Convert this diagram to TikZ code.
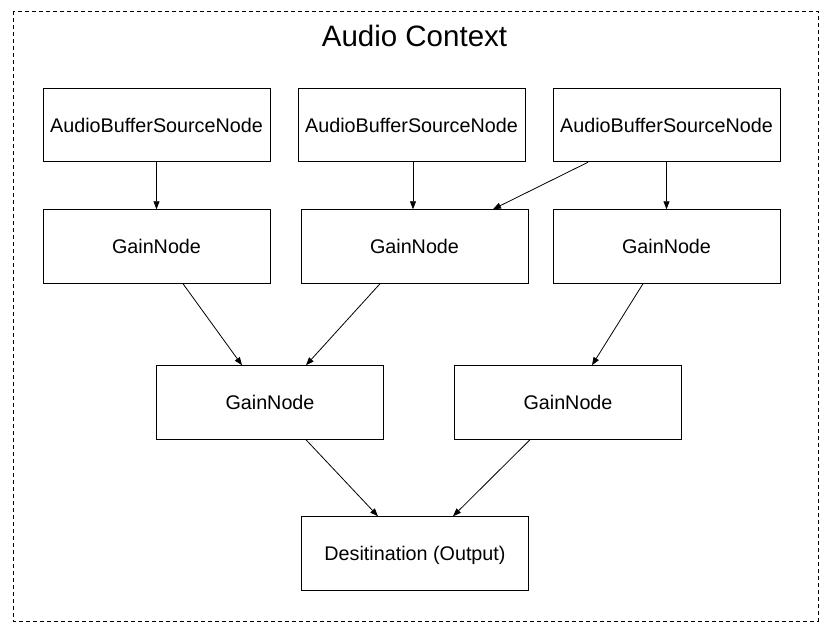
\documentclass[tikz,border=0pt]{standalone}
\usepackage{fontspec}
\setmainfont{Liberation Sans}
\usepackage{tikz}
\usetikzlibrary{arrows.meta}

\tikzset{
  box/.style={draw,line width=1pt,minimum width=227pt,minimum height=73.5pt,inner sep=0pt,
    text height=14.1pt,text depth=0pt,font=\fontsize{19.75}{22}\selectfont},
  link/.style={line width=0.8pt,-{Stealth[length=8pt,width=6pt,inset=0pt]}}
}

\begin{document}
\begin{tikzpicture}[x=1pt,y=-1pt]
\useasboundingbox (0,0) rectangle (828,632);
\draw[line width=0.9pt,dash pattern=on 4pt off 3pt] (13,11) rectangle (818,621);
\node[anchor=base,font=\fontsize{29.5}{34}\selectfont] (title) at (414.5,46) {Audio Context};

% sources
\node[box] (src1) at (156.5,125) {AudioBufferSourceNode};
\node[box] (src2) at (411.5,125) {AudioBufferSourceNode};
\node[box] (src3) at (666.5,125) {AudioBufferSourceNode};

% gains
\node[box] (gain1) at (156.5,246.5) {GainNode};
\node[box] (gain2) at (414.5,246.5) {GainNode};
\node[box] (gain3) at (666.5,246.5) {GainNode};

\node[box] (mix1) at (270,402.5) {GainNode};
\node[box] (mix2) at (568,402.5) {GainNode};

\node[box] (out) at (415,553.5) {Desitination (Output)};

\path[link]
  (src1) edge (gain1)
  ([xshift=1.5pt]src2.south) edge ([xshift=-1.5pt]gain2.north)
  ([xshift=-78.5pt]src3.south) edge ([xshift=78.5pt]gain2.north)
  (src3) edge (gain3)
  ([xshift=26.5pt]gain1.south) edge ([xshift=-28pt]mix1.north)
  ([xshift=-34.5pt]gain2.south) edge ([xshift=36pt]mix1.north)
  ([xshift=-23.5pt]gain3.south) edge ([xshift=24pt]mix2.north)
  ([xshift=36pt]mix1.south) edge ([xshift=-37pt]out.north)
  ([xshift=-38pt]mix2.south) edge ([xshift=38pt]out.north);
\end{tikzpicture}
\end{document}
